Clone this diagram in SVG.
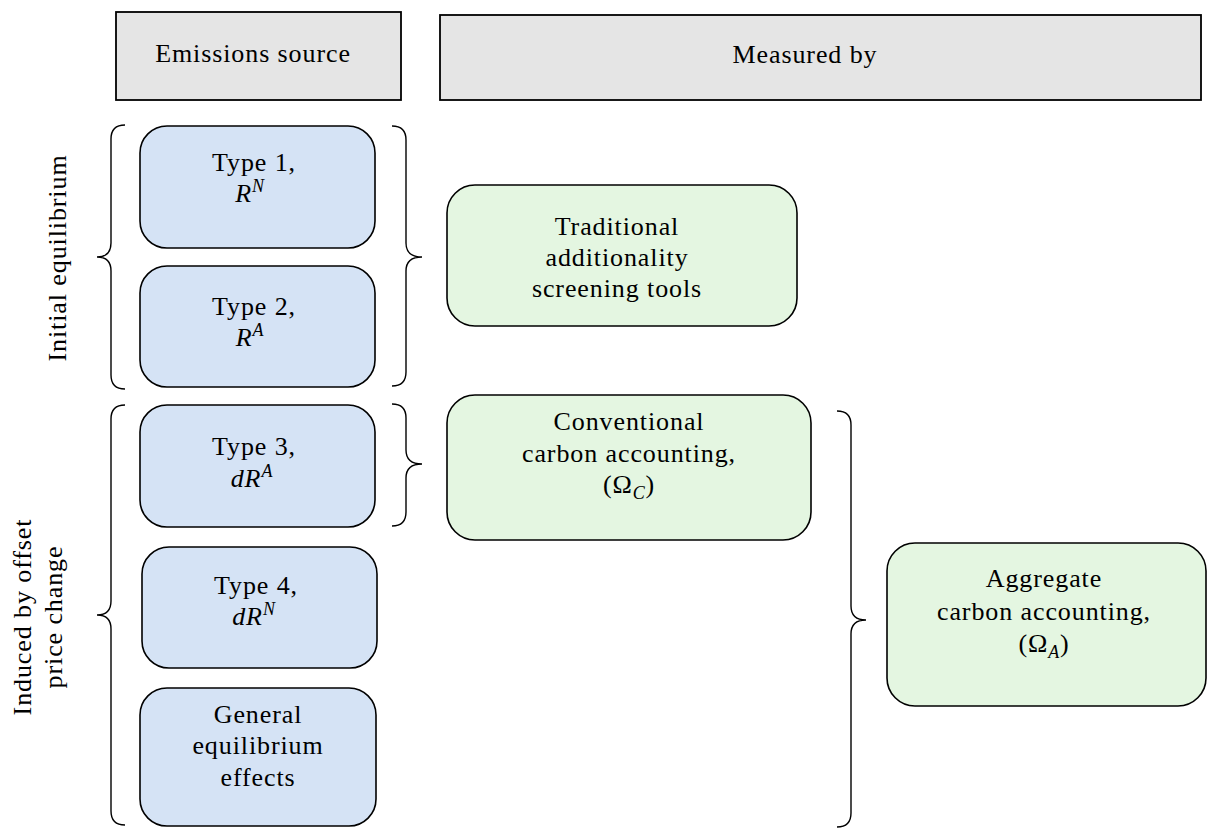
<svg xmlns="http://www.w3.org/2000/svg" width="1215" height="828" viewBox="0 0 1215 828">
<style>
text{font-family:'Liberation Serif','Times New Roman',Times,serif;font-size:26px;fill:#000;text-anchor:middle;letter-spacing:0.9px}
.hdr{fill:#e5e5e5;stroke:#000;stroke-width:1.8}
.blue{fill:#d5e3f5;stroke:#000;stroke-width:1.6}
.green{fill:#e4f6e1;stroke:#000;stroke-width:1.6}
.brace{fill:none;stroke:#000;stroke-width:1.4}
.it{font-style:italic}
.sup{font-style:italic;font-size:18px}
</style>
<rect width="1215" height="828" fill="#fff"/>
<g font-family="Liberation Serif, serif">
<g id="hdr-source"><rect class="hdr" x="116" y="12" width="285" height="88"/><text x="253" y="62">Emissions source</text></g>
<g id="hdr-measured"><rect class="hdr" x="440" y="15" width="761" height="85"/><text x="805" y="63">Measured by</text></g>

<g id="type1"><rect class="blue" x="140" y="126" width="235" height="122" rx="27"/><text x="254" y="171">Type 1,</text><text x="250" y="202"><tspan class="it">R</tspan><tspan class="sup" dy="-10">N</tspan></text></g>
<g id="type2"><rect class="blue" x="140" y="266" width="235" height="121" rx="27"/><text x="254" y="315">Type 2,</text><text x="250" y="346"><tspan class="it">R</tspan><tspan class="sup" dy="-10">A</tspan></text></g>
<g id="type3"><rect class="blue" x="140" y="405" width="235" height="122" rx="27"/><text x="254" y="455">Type 3,</text><text x="252" y="487"><tspan class="it">dR</tspan><tspan class="sup" dy="-10">A</tspan></text></g>
<g id="type4"><rect class="blue" x="142" y="547" width="235" height="121" rx="27"/><text x="256" y="594">Type 4,</text><text x="254" y="625"><tspan class="it">dR</tspan><tspan class="sup" dy="-10">N</tspan></text></g>
<g id="general"><rect class="blue" x="140" y="688" width="236" height="138" rx="27"/><text x="258" y="723">General</text><text x="258" y="754">equilibrium</text><text x="258" y="786">effects</text></g>

<g id="traditional"><rect class="green" x="447" y="185" width="350" height="141" rx="28"/><text x="617" y="235">Traditional</text><text x="617" y="266">additionality</text><text x="617" y="297">screening tools</text></g>
<g id="conventional"><rect class="green" x="447" y="395" width="364" height="145" rx="28"/><text x="629" y="430">Conventional</text><text x="629" y="462">carbon accounting,</text><text x="629" y="493">(Ω<tspan class="sup" dy="6">C</tspan><tspan dy="-6">)</tspan></text></g>
<g id="aggregate"><rect class="green" x="887" y="543" width="319" height="163" rx="28"/><text x="1044" y="587">Aggregate</text><text x="1044" y="620">carbon accounting,</text><text x="1044" y="652">(Ω<tspan class="sup" dy="6">A</tspan><tspan dy="-6">)</tspan></text></g>

<g id="label-initial"><text transform="translate(66,258) rotate(-90)">Initial equilibrium</text></g>
<g id="label-induced"><text transform="translate(31,617) rotate(-90)">Induced by offset</text><text transform="translate(62,617) rotate(-90)">price change</text></g>
</g>
<g id="connectors">
<path class="brace" d="M125,125 Q111,125 111,139 L111,243 Q111,257 97,257 Q111,257 111,271 L111,375 Q111,389 125,389"/>
<path class="brace" d="M125,405 Q111,405 111,419 L111,601 Q111,615 97,615 Q111,615 111,629 L111,811 Q111,825 125,825"/>
<path class="brace" d="M392,126 Q406,126 406,140 L406,243 Q406,257 422,257 Q406,257 406,271 L406,372 Q406,386 392,386"/>
<path class="brace" d="M392,404 Q406,404 406,418 L406,450 Q406,464 422,464 Q406,464 406,478 L406,512 Q406,526 392,526"/>
<path class="brace" d="M837,411 Q851,411 851,425 L851,606 Q851,620 866,620 Q851,620 851,634 L851,813 Q851,827 837,827"/>
</g>
</svg>
